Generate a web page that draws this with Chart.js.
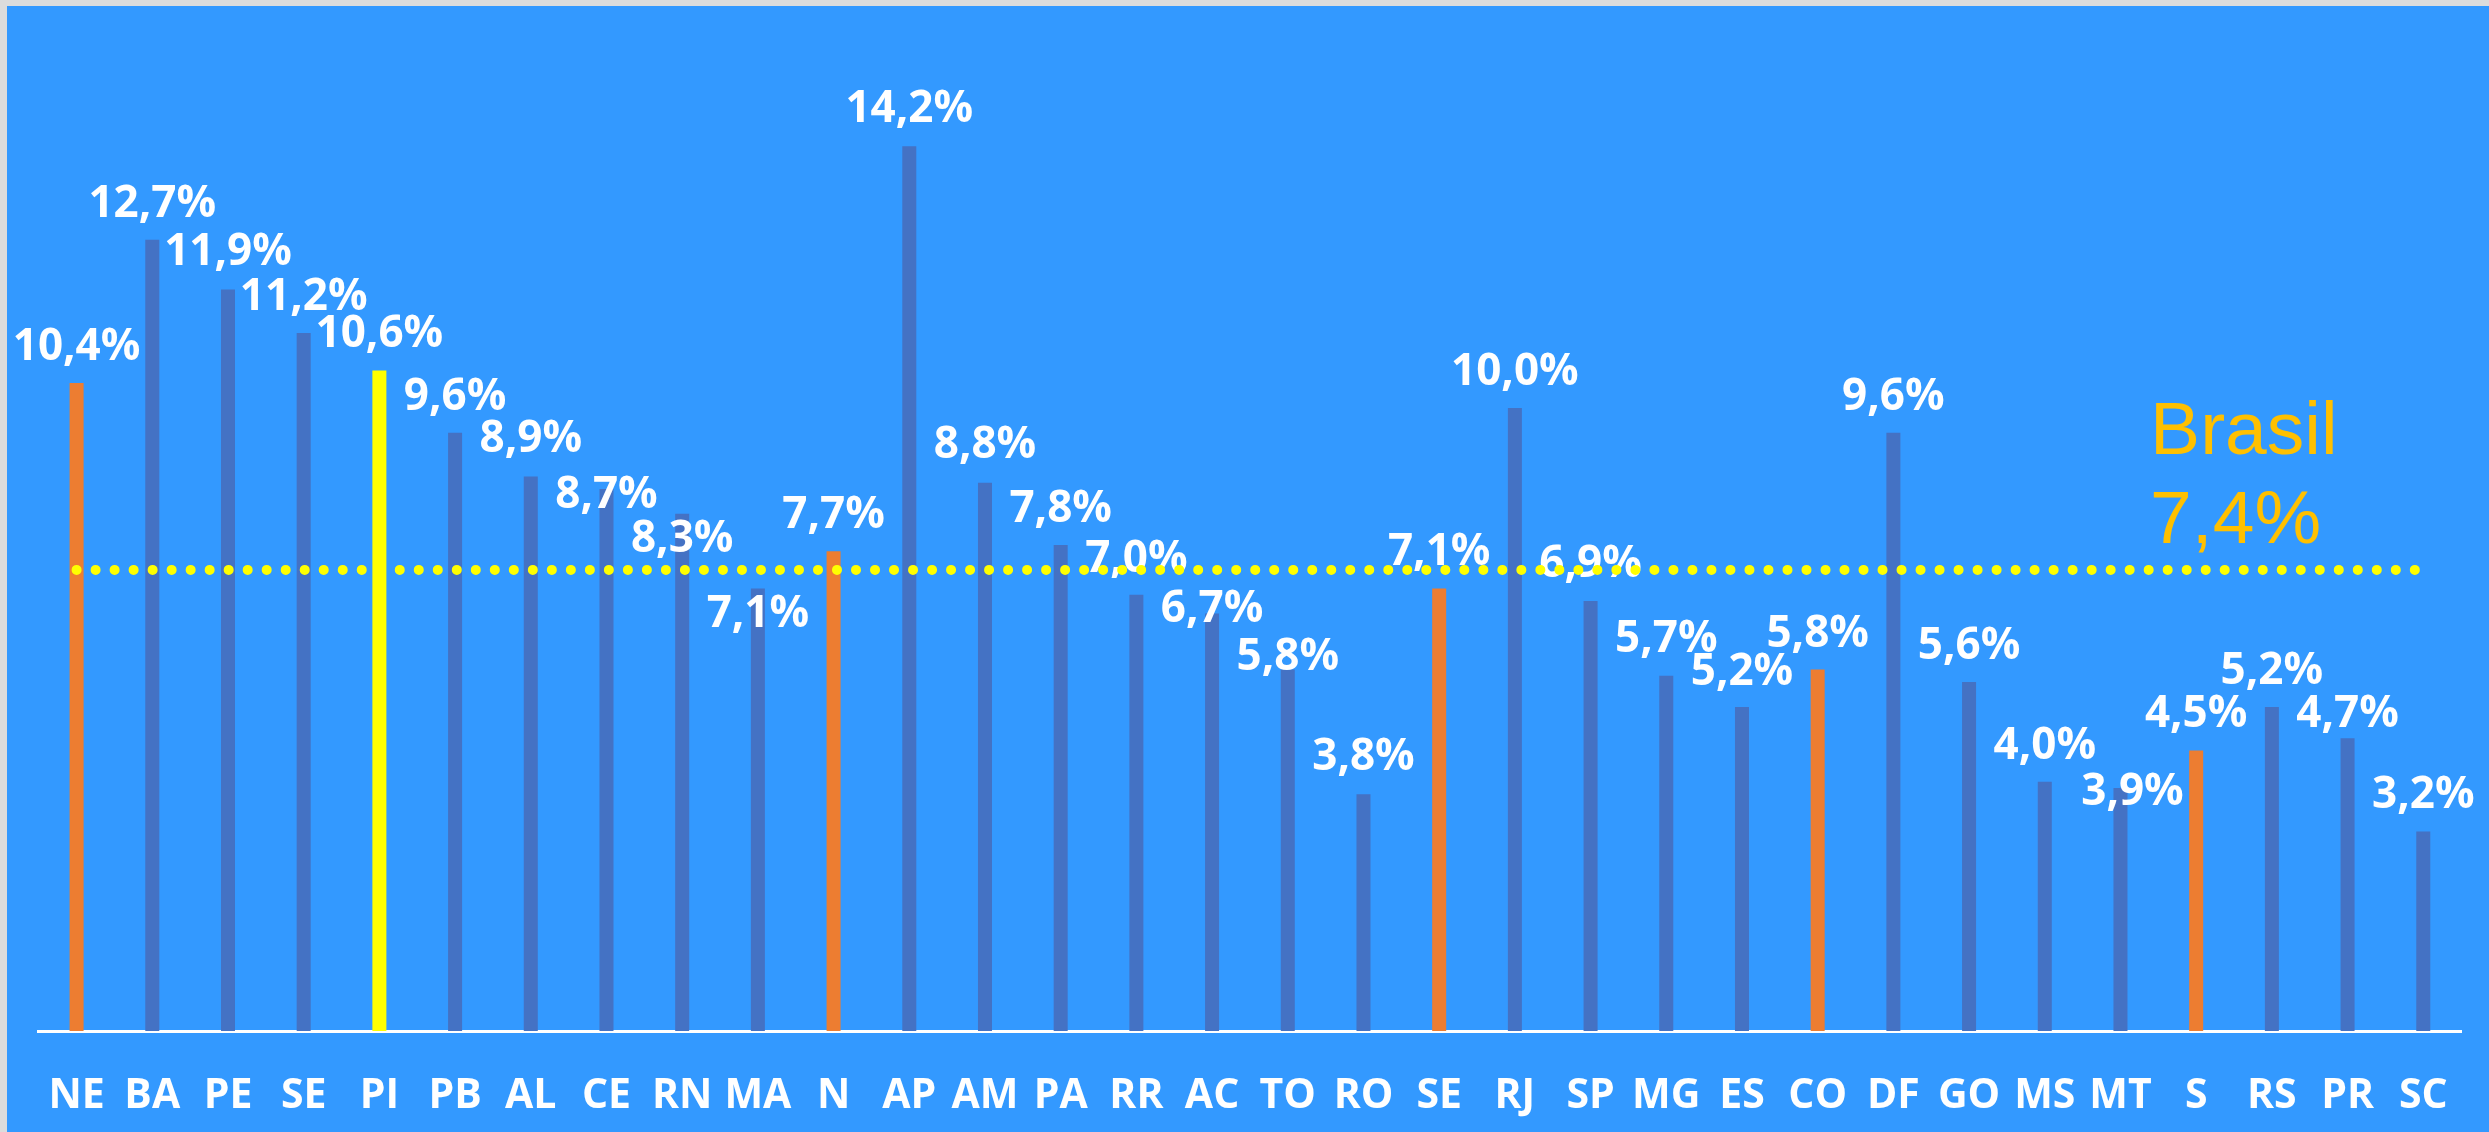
<!DOCTYPE html>
<html>
<head>
<meta charset="utf-8">
<script src="https://cdn.jsdelivr.net/npm/chart.js@4.4.1/dist/chart.umd.min.js"></script>
<style>
  body { margin: 0; background: #dcdcdc; overflow: hidden; }
  #wrap { position: absolute; left: 7px; top: 6px; width: 2482px; height: 1126px; background: #3399ff; }
</style>
</head>
<body>
<div id="wrap"><canvas id="chart"></canvas></div>
<script>
// Taxa por região / UF, com a média do Brasil
var categories = ['NE', 'BA', 'PE', 'SE', 'PI', 'PB', 'AL', 'CE', 'RN', 'MA',
                  'N', 'AP', 'AM', 'PA', 'RR', 'AC', 'TO', 'RO',
                  'SE', 'RJ', 'SP', 'MG', 'ES',
                  'CO', 'DF', 'GO', 'MS', 'MT',
                  'S', 'RS', 'PR', 'SC'];
var values = [10.4, 12.7, 11.9, 11.2, 10.6, 9.6, 8.9, 8.7, 8.3, 7.1,
              7.7, 14.2, 8.8, 7.8, 7.0, 6.7, 5.8, 3.8,
              7.1, 10.0, 6.9, 5.7, 5.2,
              5.8, 9.6, 5.6, 4.0, 3.9,
              4.5, 5.2, 4.7, 3.2];
var brasilValue = 7.4;
var brasilLabel = ['Brasil', '7,4%'];
var regionRows = [0, 10, 18, 23, 28];   // NE, N, SE, CO, S (totais regionais)
var highlightRow = 4;                   // PI

// label placement (moved by hand in the original, like excel does)
var labelDy = [-39, -39, -40, -39, -39, -39, -40, 3, 22, 22,
               -39, -40, -41, -39, -39, -8, -16, -40,
               -40, -39, -40, -40, -38,
               -39, -39, -39, -39, 1,
               -40, -39, -27, -40];
var labelDx = { 27: 12 };

function fmt(v) { return v.toFixed(1).replace('.', ',') + '%'; }

var barColors = categories.map(function(c, i) {
    if (i === highlightRow) return '#ffff00';
    if (regionRows.indexOf(i) >= 0) return '#ed7d31';
    return '#4472c4';
});

var valueLabels = {
    id: 'valueLabels',
    afterDatasetDraw: function(chart, args) {
        if (args.index !== 0) return;
        var ctx = chart.ctx;
        var meta = chart.getDatasetMeta(0);
        ctx.save();
        ctx.font = 'bold 44px "Open Sans"';
        ctx.fillStyle = '#ffffff';
        ctx.textAlign = 'center';
        ctx.textBaseline = 'alphabetic';
        meta.data.forEach(function(bar, i) {
            var dx = labelDx[i] || 0;
            ctx.fillText(fmt(values[i]), bar.x + dx, bar.y + labelDy[i] + 16);
        });
        ctx.restore();
    }
};

var brasilNote = {
    id: 'brasilNote',
    afterDraw: function(chart) {
        var ctx = chart.ctx;
        var y = chart.scales.y.getPixelForValue(brasilValue);
        var x = chart.chartArea.right - 311;
        ctx.save();
        ctx.font = '75px "Liberation Sans"';
        ctx.fillStyle = '#ffc000';
        ctx.textAlign = 'left';
        ctx.textBaseline = 'alphabetic';
        ctx.fillText(brasilLabel[0], x, y - 116);
        ctx.fillText(brasilLabel[1], x, y - 27);
        ctx.restore();
    }
};

new Chart(document.getElementById('chart'), {
    data: {
        labels: categories,
        datasets: [{
            type: 'bar',
            data: values,
            backgroundColor: barColors,
            categoryPercentage: 1,
            barPercentage: 0.185,
            order: 2
        }, {
            type: 'line',
            data: [{ x: categories[0], y: brasilValue }, { x: categories[categories.length - 1], y: brasilValue }],
            borderColor: '#ffff00',
            borderWidth: 10,
            borderDash: [0.01, 19],
            borderCapStyle: 'round',
            pointRadius: 0,
            fill: false,
            order: 1
        }]
    },
    options: {
        responsive: true,
        maintainAspectRatio: false,
        animation: false,
        events: [],
        layout: { padding: { left: 30, right: 26, top: 28, bottom: 15 } },
        plugins: { legend: { display: false }, tooltip: { enabled: false } },
        scales: {
            x: {
                grid: { display: false, drawTicks: false },
                border: { display: true, color: '#ffffff', width: 3 },
                ticks: {
                    color: '#ffffff',
                    font: { family: '"Open Sans"', size: 41, weight: 'bold', lineHeight: 1.2 },
                    padding: 41,
                    autoSkip: false,
                    maxRotation: 0
                },
                afterFit: function(scale) { scale.height = 86; }
            },
            y: {
                display: false,
                min: 0,
                max: 16
            }
        }
    },
    plugins: [valueLabels, brasilNote]
});
</script>
</body>
</html>
